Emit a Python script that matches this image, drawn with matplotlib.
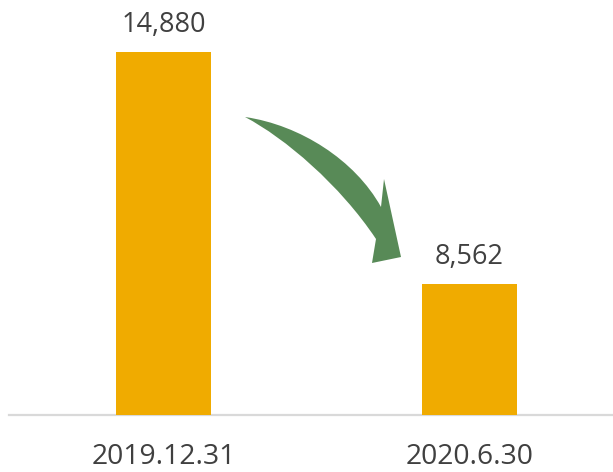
import matplotlib
matplotlib.use("Agg")
import matplotlib.pyplot as plt
from matplotlib.path import Path
from matplotlib.patches import PathPatch

plt.rcParams['font.family'] = ['Open Sans', 'DejaVu Sans']

# Data
dates = ["2019.12.31", "2020.6.30"]
values = [14880, 8562]
value_labels = ["14,880", "8,562"]

BAR_COLOR = "#F0AB00"
ARROW_COLOR = "#588A57"
TEXT_COLOR = "#404040"

W, H = 613, 472
fig = plt.figure(figsize=(W / 100, H / 100), dpi=100)
ax = fig.add_axes([9 / W, (H - 415) / H, (W - 9) / W, 415 / H])

x = list(range(len(dates)))
bars = ax.bar(x, values, width=0.311, color=BAR_COLOR, zorder=2)
ax.set_ylim(5000, 16300)
ax.set_xlim(-0.506, 1.471)

# baseline
ax.axhline(5000, color="#D9D9D9", lw=1.6, zorder=1, clip_on=False)

for spine in ax.spines.values():
    spine.set_visible(False)
ax.set_yticks([])
ax.set_xticks(x)
ax.set_xticklabels(dates, fontsize=20.3, color=TEXT_COLOR)
ax.tick_params(axis="x", length=0, pad=20.5)

for xi, v, lab in zip(x, values, value_labels):
    ax.annotate(lab, (xi, v), xytext=(0, 14.4), textcoords="offset points",
                ha="center", va="baseline", fontsize=19.5, color=TEXT_COLOR)

# curved downward arrow, defined in figure pixels (origin top-left)
def fp(px, py):
    return (px / W, 1 - py / H)

verts = [
    fp(245, 117),
    fp(300, 125), fp(355, 160), fp(381, 207),
    fp(384, 179),
    fp(401, 257),
    fp(372, 263),
    fp(376, 239),
    fp(340, 185), fp(285, 138), fp(245, 117),
    fp(245, 117),
]
codes = [Path.MOVETO,
         Path.CURVE4, Path.CURVE4, Path.CURVE4,
         Path.LINETO, Path.LINETO, Path.LINETO, Path.LINETO,
         Path.CURVE4, Path.CURVE4, Path.CURVE4,
         Path.CLOSEPOLY]
arrow = PathPatch(Path(verts, codes), facecolor=ARROW_COLOR, edgecolor="none",
                  transform=fig.transFigure, zorder=3)
fig.patches.append(arrow)

fig.savefig("out.png", dpi=100)
